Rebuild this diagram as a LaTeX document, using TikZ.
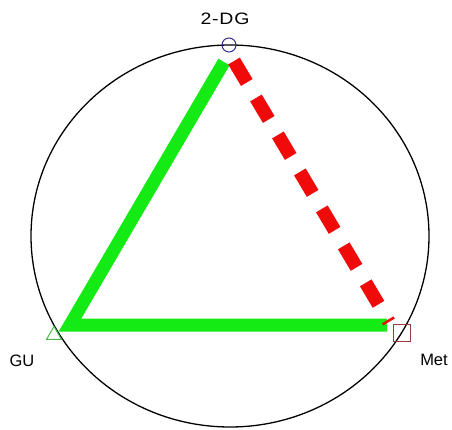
\documentclass[tikz,border=0pt]{standalone}
\usepackage{fontspec}
\setmainfont{Liberation Sans}
\usetikzlibrary{shapes.geometric}
\definecolor{limeg}{RGB}{20,235,20}
\definecolor{redd}{RGB}{240,10,10}
\definecolor{markblue}{RGB}{50,50,150}
\definecolor{markgreen}{RGB}{70,190,70}
\definecolor{markred}{RGB}{150,60,60}
\begin{document}
\begin{tikzpicture}[x=1pt,y=-1pt,
  lbl/.style={font=\fontsize{16.5}{18}\selectfont, inner sep=0pt},
  greenpath/.style={draw=limeg, line width=13pt, line join=miter},
  reddash/.style={draw=redd, line width=13.5pt, dash pattern=on 25pt off 18pt},
  mk/.style={inner sep=0pt, minimum size=#1, line width=1pt}
]
\useasboundingbox (0,0) rectangle (452,430);
\draw[line width=1.3pt] (230,236) ellipse [x radius=199, y radius=191];
\coordinate (top) at (224,62);
\coordinate (topr) at (234,61);
\coordinate (corner) at (70,325);
\coordinate (right) at (387,325);
\coordinate (rightr) at (389,322);
\draw[greenpath] (top) -- (corner) -- (right);
\draw[reddash] (topr) -- (rightr);
\node[mk=14pt, circle, draw=markblue] (dg) at (229,45) {};
\node[mk=17pt, regular polygon, regular polygon sides=3, draw=markgreen] (gu) at (54,335) {};
\node[mk=17pt, rectangle, draw=markred] (met) at (402,333) {};
\node[lbl] (dgl) at (225,19) {\addfontfeature{FakeStretch=1.18,LetterSpace=5}2-DG};
\node[lbl] (gul) at (22,361) {GU};
\node[lbl] (metl) at (434,360) {Met};
\end{tikzpicture}
\end{document}
